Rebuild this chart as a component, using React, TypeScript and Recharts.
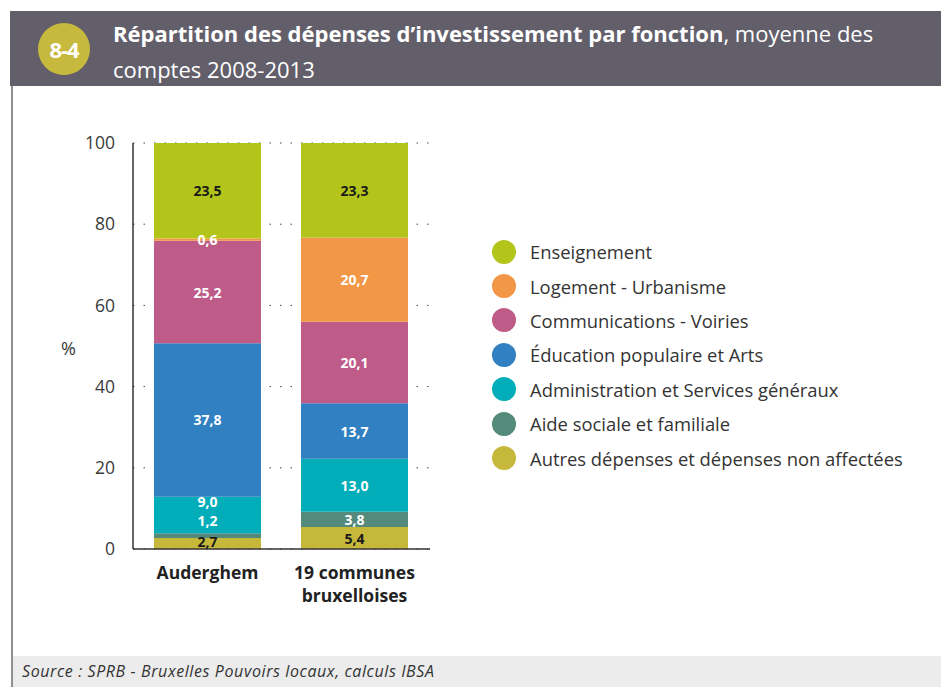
import React from 'react';
import { BarChart, Bar, XAxis, YAxis, CartesianGrid, Legend, LabelList } from 'recharts';

// valeurs en % (moyenne des comptes 2008-2013)
const categories = ['Auderghem', '19 communes bruxelloises'];
const enseignement = [23.5, 23.3];
const logement = [0.6, 20.7];
const communications = [25.2, 20.1];
const education = [37.8, 13.7];
const administration = [9.0, 13.0];
const aideSociale = [1.2, 3.8];
const autres = [2.7, 5.4];
const yTicks = [0, 20, 40, 60, 80, 100];

const FONT = '"Open Sans", "Noto Sans", sans-serif';

// empilement du bas vers le haut
const series = [
  { key: 'autres', name: 'Autres dépenses et dépenses non affectées', values: autres, color: '#c5b83b', text: '#1a1a1a', nudge: [-2, 0] },
  { key: 'aide', name: 'Aide sociale et familiale', values: aideSociale, color: '#538a7c', text: '#ffffff', nudge: [-15, 0] },
  { key: 'admin', name: 'Administration et Services généraux', values: administration, color: '#00adb8', text: '#ffffff', nudge: [-13, 0] },
  { key: 'education', name: 'Éducation populaire et Arts', values: education, color: '#3181c2', text: '#ffffff', nudge: [0, 0] },
  { key: 'communications', name: 'Communications - Voiries', values: communications, color: '#be5b89', text: '#ffffff', nudge: [0, 0] },
  { key: 'logement', name: 'Logement - Urbanisme', values: logement, color: '#f29745', text: '#ffffff', nudge: [0, 0] },
  { key: 'enseignement', name: 'Enseignement', values: enseignement, color: '#b3c51b', text: '#1a1a1a', nudge: [0, 0] },
];

const data = categories.map((category, i) => {
  const row: Record<string, string | number> = { category };
  series.forEach((s) => {
    row[s.key] = s.values[i];
  });
  return row;
});

const fmt = (v: number) => Number(v).toFixed(1).replace('.', ',');

const makeLabel = (s: (typeof series)[number]) => (props: any) => {
  const vb = props.viewBox || {};
  const x = props.x ?? vb.x;
  const y = props.y ?? vb.y;
  const width = props.width ?? vb.width;
  const height = props.height ?? vb.height;
  const idx = props.index ?? 0;
  if (props.value == null || x == null) return null;
  return (
    <text
      x={x + width / 2}
      y={y + height / 2 + (s.nudge[idx] || 0)}
      textAnchor="middle"
      dominantBaseline="central"
      fill={s.text}
      fontFamily={FONT}
      fontWeight={700}
      fontSize={14}
    >
      {fmt(props.value)}
    </text>
  );
};

const wrapWords = (label: string, max: number) => {
  const lines: string[] = [];
  let cur = '';
  label.split(' ').forEach((w) => {
    const next = cur ? cur + ' ' + w : w;
    if (next.length > max && cur) {
      lines.push(cur);
      cur = w;
    } else {
      cur = next;
    }
  });
  if (cur) lines.push(cur);
  return lines;
};

const CategoryTick = ({ x, y, payload }: any) => {
  const lines = wrapWords(String(payload.value), 12);
  return (
    <g>
      {lines.map((line, i) => (
        <text
          key={i}
          x={x}
          y={y + 23 + i * 23}
          textAnchor="middle"
          dominantBaseline="central"
          fill="#222"
          fontFamily={FONT}
          fontWeight={700}
          fontSize={17.5}
        >
          {line}
        </text>
      ))}
    </g>
  );
};

const LegendList = () => (
  <div style={{ fontFamily: FONT }}>
    {[...series].reverse().map((s) => (
      <div key={s.key} style={{ display: 'flex', alignItems: 'center', height: 34.4 }}>
        <span
          style={{
            width: 24,
            height: 24,
            borderRadius: '50%',
            background: s.color,
            display: 'inline-block',
            flex: 'none',
          }}
        />
        <span style={{ marginLeft: 14, fontSize: 18.4, color: '#333', whiteSpace: 'nowrap' }}>{s.name}</span>
      </div>
    ))}
  </div>
);

const App: React.FC = () => {
  return (
    <div
      style={{
        position: 'absolute',
        left: 0,
        top: 0,
        width: 941,
        height: 687,
        background: '#fff',
        overflow: 'hidden',
        fontFamily: FONT,
      }}
    >
      <div style={{ position: 'absolute', left: 0, top: 0 }}>
        <BarChart
          width={941}
          height={687}
          data={data}
          margin={{ top: 143, right: 511, bottom: 78, left: 73 }}
        >
          <CartesianGrid vertical={false} stroke="#444" strokeDasharray="1.5 9" />
          <XAxis
            dataKey="category"
            type="category"
            interval={0}
            height={60}
            padding={{ left: 1, right: 2 }}
            axisLine={{ stroke: '#333', strokeWidth: 1.5 }}
            tickLine={false}
            tickSize={0}
            tickMargin={0}
            tick={<CategoryTick />}
          />
          <YAxis
            width={60}
            domain={[0, 100]}
            ticks={yTicks}
            interval={0}
            axisLine={{ stroke: '#333', strokeWidth: 1.5 }}
            tickLine={false}
            tickSize={10}
            tickMargin={8}
            tick={{ fontSize: 17.5, fill: '#3a3a3a', fontFamily: FONT }}
          />
          <Legend
            layout="vertical"
            align="center"
            verticalAlign="middle"
            content={<LegendList />}
            wrapperStyle={{ left: 492, top: 234.5, width: 440, height: 'auto' }}
          />
          {series.map((s) => (
            <Bar
              key={s.key}
              dataKey={s.key}
              name={s.name}
              stackId="total"
              fill={s.color}
              barSize={107}
              isAnimationActive={false}
            >
              <LabelList dataKey={s.key} content={makeLabel(s)} />
            </Bar>
          ))}
        </BarChart>
      </div>

      <div
        style={{
          position: 'absolute',
          left: 61,
          top: 336,
          fontSize: 18,
          color: '#3a3a3a',
        }}
      >
        %
      </div>

      {/* bandeau titre */}
      <div
        style={{
          position: 'absolute',
          left: 10,
          top: 11,
          width: 931,
          height: 75,
          background: '#625f6b',
        }}
      >
        <div
          style={{
            position: 'absolute',
            left: 28,
            top: 12,
            width: 52,
            height: 52,
            borderRadius: '50%',
            background: '#c6b93d',
            color: '#fff',
            fontWeight: 700,
            fontSize: 22,
            letterSpacing: -1,
            display: 'flex',
            alignItems: 'center',
            justifyContent: 'center',
          }}
        >
          8-4
        </div>
        <div
          style={{
            position: 'absolute',
            left: 103,
            top: 4,
            color: '#fff',
            fontSize: 22,
            lineHeight: '36px',
            whiteSpace: 'nowrap',
          }}
        >
          <span style={{ fontWeight: 700 }}>Répartition des dépenses d’investissement par fonction</span>
          , moyenne des
          <br />
          comptes 2008-2013
        </div>
      </div>

      {/* bordure gauche */}
      <div style={{ position: 'absolute', left: 11, top: 86, width: 1.5, height: 601, background: '#8f8f8f' }} />

      {/* source */}
      <div
        style={{
          position: 'absolute',
          left: 12.5,
          top: 656,
          width: 929,
          height: 31,
          background: '#ebeceb',
        }}
      >
        <div
          style={{
            position: 'absolute',
            left: 9.5,
            top: 4,
            fontStyle: 'italic',
            fontSize: 16,
            letterSpacing: 0.6,
            color: '#333',
            whiteSpace: 'nowrap',
          }}
        >
          Source : SPRB - Bruxelles Pouvoirs locaux, calculs IBSA
        </div>
      </div>
    </div>
  );
};

export default App;
